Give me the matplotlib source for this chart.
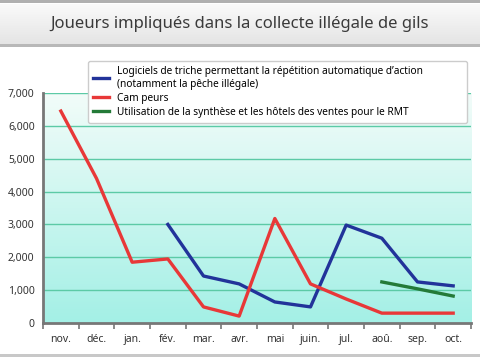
import numpy as np
import matplotlib.pyplot as plt
from matplotlib.patches import Rectangle
from matplotlib.colors import LinearSegmentedColormap
from matplotlib.ticker import FuncFormatter

plt.rcParams['font.family'] = ['Noto Sans', 'DejaVu Sans']

# données
mois = ['nov.', 'déc.', 'jan.', 'fév.', 'mar.', 'avr.', 'mai', 'juin.',
        'jul.', 'aoû.', 'sep.', 'oct.']
logiciels = [None, None, None, 3000, 1430, 1190, 640, 490, 2980, 2580, 1250, 1130]
campeurs = [6450, 4400, 1850, 1950, 490, 210, 3180, 1190, 730, 300, 300, 300]
rmt = [None, None, None, None, None, None, None, None, None, 1250, 1040, 820]
noms = ["Logiciels de triche permettant la répétition automatique d\u2019action\n(notamment la pêche illégale)",
        "Cam peurs",
        "Utilisation de la synthèse et les hôtels des ventes pour le RMT"]

fig = plt.figure(figsize=(4.8, 3.6), dpi=100)

# bandeau du titre
bg = fig.add_axes([0, 0, 1, 1], zorder=-10)
grad = np.linspace(0, 1, 50).reshape(-1, 1)
bg.imshow(grad, extent=(0, 480, 45, 4), origin='lower',
          cmap=LinearSegmentedColormap.from_list('g', ['#e4e4e4', '#fafafa']), aspect='auto')
bg.add_patch(Rectangle((0, 0), 480, 3, color='#b0b0b0', lw=0))
bg.add_patch(Rectangle((0, 44), 480, 3, color='#b8b8b8', lw=0))
bg.add_patch(Rectangle((0, 354), 480, 3, color='#c8c8c8', lw=0))
bg.text(240, 24, "Joueurs impliqués dans la collecte illégale de gils", ha='center',
        va='center', fontsize=12, fontweight='semibold', color='#3a3a3a')
bg.set_xlim(0, 480)
bg.set_ylim(360, 0)
bg.axis('off')

ax = fig.add_axes([43 / 480, 1 - 323 / 360, 428 / 480, 230 / 360])
x = np.arange(len(mois))

# fond dégradé
cmap = LinearSegmentedColormap.from_list('c', ['#f2fcf9', '#a4f0e6'])
ax.imshow(np.linspace(0, 1, 100).reshape(-1, 1), extent=(-0.5, len(mois) - 0.5, 0, 7000),
          origin='upper', cmap=cmap, aspect='auto', zorder=0)
for v in range(1000, 8000, 1000):
    ax.axhline(v, color='#5ccaa6', lw=1, zorder=1)

def serie(vals):
    return np.array([np.nan if v is None else v for v in vals], dtype=float)

l1, = ax.plot(x, serie(logiciels), color='#22339a', lw=2.4, zorder=3)
l2, = ax.plot(x, serie(campeurs), color='#e83838', lw=2.4, zorder=3)
l3, = ax.plot(x, serie(rmt), color='#247a38', lw=2.4, zorder=3)

ax.set_xlim(-0.5, len(mois) - 0.5)
ax.set_ylim(0, 7000)
ax.set_xticks(x)
ax.set_xticklabels(mois)
ax.set_xticks(np.arange(-0.5, len(mois)), minor=True)
ax.tick_params(axis='x', which='major', length=0, pad=8, labelsize=7.5, colors='#333333')
ax.tick_params(axis='x', which='minor', length=4, width=1.2, color='#777777')
ax.set_yticks(range(0, 8000, 1000))
ax.yaxis.set_major_formatter(FuncFormatter(lambda v, p: f'{int(v):,}'))
ax.tick_params(axis='y', length=0, pad=6, labelsize=7.5, colors='#333333')
for s in ['top', 'right']:
    ax.spines[s].set_visible(False)
for s in ['left', 'bottom']:
    ax.spines[s].set_color('#777777')
    ax.spines[s].set_linewidth(2)

leg = fig.legend([l1, l2, l3], noms, loc='upper left',
                 bbox_to_anchor=(83 / 480, 1 - 127 / 360, 389 / 480, 71 / 360), mode='expand',
                 fontsize=7.3, handlelength=1.6, handletextpad=0.8, labelspacing=0.3,
                 borderpad=0.5, frameon=True, fancybox=True, framealpha=1,
                 edgecolor='#cccccc')
leg.get_frame().set_linewidth(1)

plt.savefig("out.png", dpi=100)
